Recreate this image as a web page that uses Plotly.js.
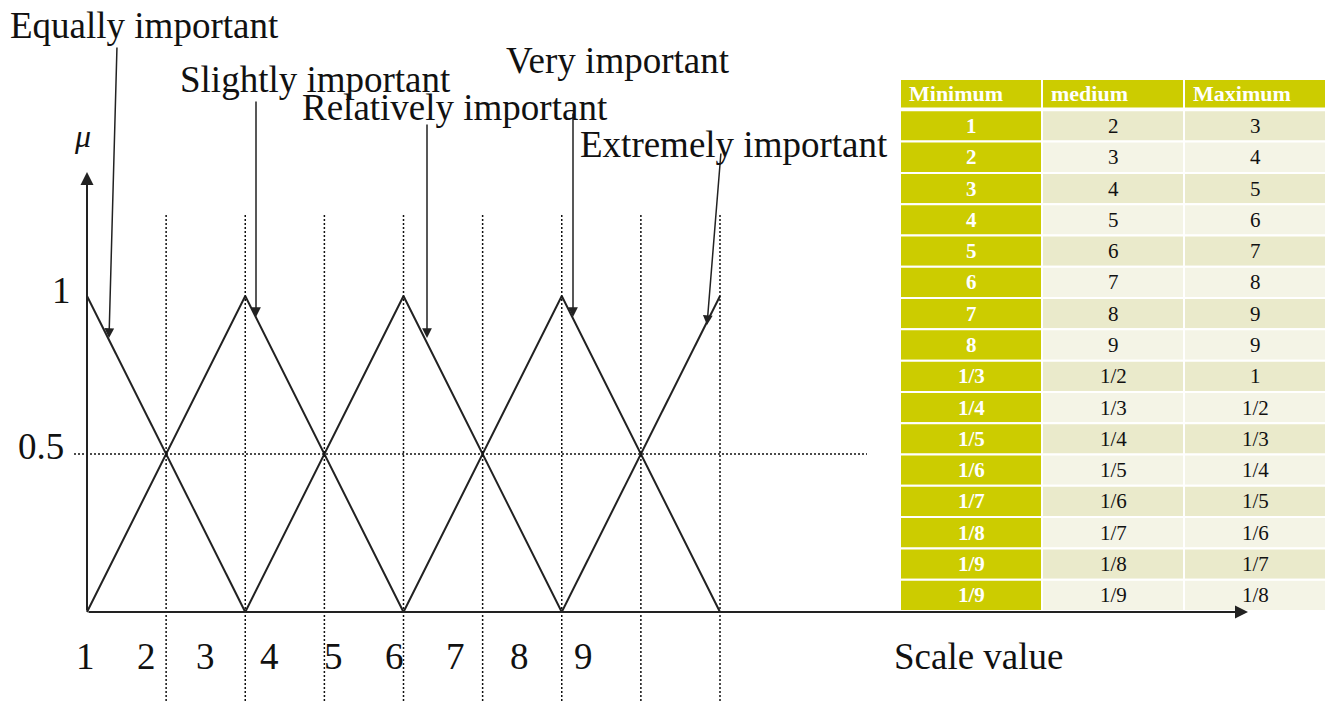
<!DOCTYPE html>
<html>
<head>
<meta charset="utf-8">
<script src="https://cdn.plot.ly/plotly-3.0.1.min.js"></script>
<style>html,body{margin:0;padding:0;background:#fff;}#chart{width:1327px;height:701px;}</style>
</head>
<body>
<div id="chart"></div>
<script>
// ---------- data ----------
const equallyX = [1, 3];        const equallyY = [1, 0];
const slightlyX = [1, 3, 5];    const slightlyY = [0, 1, 0];
const relativelyX = [3, 5, 7];  const relativelyY = [0, 1, 0];
const veryX = [5, 7, 9];        const veryY = [0, 1, 0];
const extremelyX = [7, 9];      const extremelyY = [0, 1];
const gridX = [2, 3, 4, 5, 6, 7, 8, 9];
const scaleLabels = ['1', '2', '3', '4', '5', '6', '7', '8', '9'];
const muTicks = ['1', '0.5'];
const termNames = ['Equally important', 'Slightly important', 'Relatively important', 'Very important', 'Extremely important'];
const tableHeader = ['Minimum', 'medium', 'Maximum'];
const minimumCol = ['1','2','3','4','5','6','7','8','1/3','1/4','1/5','1/6','1/7','1/8','1/9','1/9'];
const mediumCol  = ['2','3','4','5','6','7','8','9','1/2','1/3','1/4','1/5','1/6','1/7','1/8','1/9'];
const maximumCol = ['3','4','5','6','7','8','9','9','1','1/2','1/3','1/4','1/5','1/6','1/7','1/8'];

// ---------- layout helpers ----------
const W = 1327, H = 701;
const FONT = 'Liberation Serif, Times New Roman, serif';
const BIG = 37;
const px = v => v / W;
const py = v => 1 - v / H;
const unitX = 79.125, originX = 87, unitY = 316, originY = 612;
const lineColor = '#222';

function mf(x, y, name) {
  return {type: 'scatter', mode: 'lines', x: x, y: y, name: name,
          line: {color: lineColor, width: 2}, hoverinfo: 'skip', showlegend: false};
}
const traces = [
  mf(equallyX, equallyY, termNames[0]),
  mf(slightlyX, slightlyY, termNames[1]),
  mf(relativelyX, relativelyY, termNames[2]),
  mf(veryX, veryY, termNames[3]),
  mf(extremelyX, extremelyY, termNames[4])
];

const shapes = gridX.map(k => ({
  type: 'line', xref: 'x', yref: 'paper', x0: k, x1: k, y0: 0, y1: py(215),
  line: {color: '#111', width: 1.5, dash: '2px,2px'}
}));
shapes.push({type: 'line', xref: 'paper', yref: 'y', x0: px(74), x1: px(867), y0: 0.5, y1: 0.5,
  line: {color: '#111', width: 1.5, dash: '2px,2px'}});

function arrow(hx, hy, tx, ty, w) {
  return {xref: 'paper', yref: 'paper', x: px(hx), y: py(hy), ax: tx - hx, ay: ty - hy,
          text: '', showarrow: true, arrowhead: 2, arrowsize: 1.3, arrowwidth: w || 1.5,
          arrowcolor: lineColor, standoff: 0, startstandoff: 0};
}
function label(text, x, y, xanchor, size, italic) {
  return {xref: 'paper', yref: 'paper', x: px(x), y: py(y), text: italic ? '<i>' + text + '</i>' : text,
          showarrow: false, xanchor: xanchor || 'left', yanchor: 'middle',
          font: {family: FONT, size: size || BIG, color: '#111'}};
}

const annotations = [
  arrow(1248, 612, originX, 612, 2),
  arrow(originX, 172, originX, 612, 2),
  arrow(109, 338, 117, 46),
  arrow(256, 317, 256, 100),
  arrow(427, 338, 427, 123),
  arrow(573, 317, 573, 112),
  arrow(707, 325, 721, 152),
  label(termNames[0], 8, 26),
  label(termNames[1], 178, 79),
  label(termNames[2], 300, 108),
  label(termNames[3], 504, 61),
  label(termNames[4], 578, 144),
  label('Scale value', 892, 656),
  label('μ', 82, 136, 'center', 32, true),
  label(muTicks[0], 61, 290, 'center'),
  label(muTicks[1], 41, 446, 'center')
];
const labelPx = [85, 146, 205, 269, 333, 394, 455, 519, 583];
scaleLabels.forEach((t, i) => annotations.push(label(t, labelPx[i], 656, 'center')));

// ---------- table (cells drawn on their own axes: column index x row index) ----------
const olive = '#cccc00', dark = '#eaeacb', light = '#f4f4e6';
const columns = [minimumCol, mediumCol, maximumCol];
tableHeader.forEach((h, c) => {
  shapes.push({type: 'rect', xref: 'x2', yref: 'y2', x0: c, x1: c + 1, y0: -1, y1: -0.06,
    fillcolor: olive, line: {color: 'white', width: 2}, layer: 'above'});
  annotations.push({xref: 'x2', yref: 'y2', x: c + 0.05, y: -0.53, text: '<b>' + h + '</b>',
    showarrow: false, xanchor: 'left', yanchor: 'middle',
    font: {family: FONT, size: 22, color: 'white'}});
});
columns.forEach((col, c) => {
  col.forEach((v, r) => {
    const fill = c === 0 ? olive : (r % 2 === 0 ? dark : light);
    shapes.push({type: 'rect', xref: 'x2', yref: 'y2', x0: c, x1: c + 1, y0: r, y1: r + 1,
      fillcolor: fill, line: {color: 'white', width: 2}, layer: 'above'});
    annotations.push({xref: 'x2', yref: 'y2', x: c + 0.5, y: r + 0.5,
      text: c === 0 ? '<b>' + v + '</b>' : v, showarrow: false,
      xanchor: 'center', yanchor: 'middle',
      font: {family: FONT, size: 21, color: c === 0 ? 'white' : '#111'}});
  });
});

const layout = {
  width: W, height: H,
  margin: {l: 0, r: 0, t: 0, b: 0},
  paper_bgcolor: 'white', plot_bgcolor: 'rgba(0,0,0,0)',
  showlegend: false,
  xaxis: {range: [1 - originX / unitX, 1 + (W - originX) / unitX], visible: false, fixedrange: true},
  yaxis: {range: [-(H - originY) / unitY, originY / unitY], visible: false, fixedrange: true},
  xaxis2: {domain: [px(900), px(1326)], range: [0, 3], visible: false, anchor: 'y2', fixedrange: true},
  yaxis2: {domain: [py(611), py(79)], range: [minimumCol.length, -1], visible: false, anchor: 'x2', fixedrange: true},
  shapes: shapes,
  annotations: annotations,
  font: {family: FONT}
};
Plotly.newPlot('chart', traces, layout, {displayModeBar: false, staticPlot: true});
</script>
</body>
</html>
